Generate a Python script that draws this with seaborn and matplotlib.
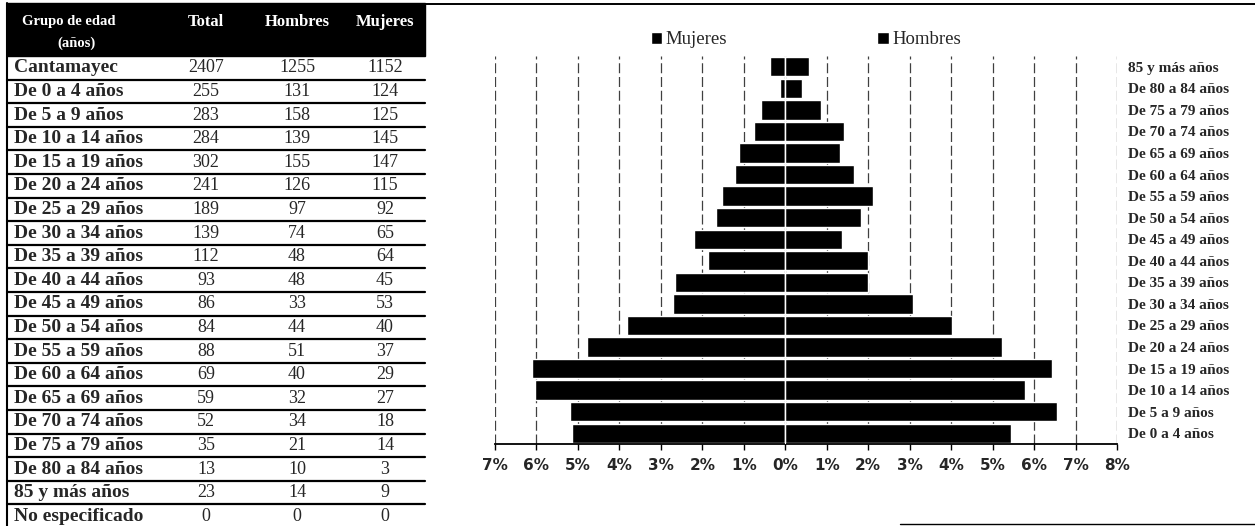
import numpy as np
import pandas as pd
import matplotlib
matplotlib.use("Agg")
import matplotlib.pyplot as plt
from matplotlib.patches import Rectangle, Patch
import seaborn as sns

sns.set_theme(style="ticks")
plt.rcParams["font.family"] = ["Liberation Serif", "DejaVu Serif"]

# --- data (table of the reference) ---
grupos = ["Cantamayec", "De 0 a 4 años", "De 5 a 9 años", "De 10 a 14 años",
          "De 15 a 19 años", "De 20 a 24 años", "De 25 a 29 años", "De 30 a 34 años",
          "De 35 a 39 años", "De 40 a 44 años", "De 45 a 49 años", "De 50 a 54 años",
          "De 55 a 59 años", "De 60 a 64 años", "De 65 a 69 años", "De 70 a 74 años",
          "De 75 a 79 años", "De 80 a 84 años", "85 y más años", "No especificado"]
total = [2407, 255, 283, 284, 302, 241, 189, 139, 112, 93, 86, 84, 88, 69, 59, 52, 35, 13, 23, 0]
hombres = [1255, 131, 158, 139, 155, 126, 97, 74, 48, 48, 33, 44, 51, 40, 32, 34, 21, 10, 14, 0]
mujeres = [1152, 124, 125, 145, 147, 115, 92, 65, 64, 45, 53, 40, 37, 29, 27, 18, 14, 3, 9, 0]
encabezado = ["Total", "Hombres", "Mujeres"]
xticks = list(range(-7, 9))

# pyramid uses the age groups only, as share of the total population
edades = grupos[1:19]
pob = total[0]
df = pd.DataFrame({
    "grupo": edades * 2,
    "sexo": ["Mujeres"] * len(edades) + ["Hombres"] * len(edades),
    "pct": [-m / pob * 100 for m in mujeres[1:19]] + [h / pob * 100 for h in hombres[1:19]],
})

fig = plt.figure(figsize=(12.55, 5.26), dpi=100)

# --- table drawn in pixel coordinates ---
bg = fig.add_axes([0, 0, 1, 1])
bg.set_xlim(0, 1255)
bg.set_ylim(526, 0)
bg.axis("off")

t_left, t_right = 7, 425
head_top, head_bot = 3, 56
row_h = 23.6
col_x = [206, 297, 385]
bg.add_patch(Rectangle((t_left, head_top), t_right - t_left, head_bot - head_top,
                       color="black", zorder=1))
hfont = dict(color="white", fontweight="bold", va="center")
bg.text(69, 22, "Grupo de edad", ha="center", fontsize=10.5, **hfont)
bg.text(76, 43, "(años)", ha="center", fontsize=10.5, **hfont)
for x, h in zip(col_x, encabezado):
    bg.text(x, 22, h, ha="center", fontsize=12, **hfont)

for i, g in enumerate(grupos):
    yc = head_bot + row_h * (i + 0.5)
    bg.text(14, yc, g, ha="left", va="center", fontsize=14, fontweight="bold")
    for x, v in zip(col_x, (total[i], hombres[i], mujeres[i])):
        bg.text(x, yc, str(v), ha="center", va="center", fontsize=13)
    bg.plot([t_left, t_right], [head_bot + row_h * (i + 1)] * 2, color="black", lw=1.6)
bg.plot([t_left, t_left], [head_top, 526], color="black", lw=1.5)

# frame lines of the chart box
bg.plot([t_right, 1255], [4, 4], color="black", lw=1.4)
bg.plot([900, 1255], [524, 524], color="black", lw=1.0)

# --- population pyramid ---
ax = fig.add_axes([495 / 1255, (526 - 444) / 526, (1117 - 495) / 1255, (444 - 56) / 526])
sns.barplot(data=df, x="pct", y="grupo", hue="sexo", order=edades[::-1],
            hue_order=["Mujeres", "Hombres"], palette=["black", "black"],
            dodge=False, width=0.9, orient="h", legend=False, saturation=1,
            errorbar=None, ax=ax, zorder=2)
ax.axvline(0, color="white", lw=0.8, zorder=3)
ax.set_xlim(-7, 8)
ax.set_xticks(xticks)
ax.set_xticklabels([f"{abs(v)}%" for v in xticks], family="DejaVu Sans",
                   fontweight="bold", fontsize=11)
ax.set_axisbelow(True)
ax.xaxis.grid(True, color="0.25", lw=0.9, ls=(0, (8, 3)))
ax.tick_params(axis="x", direction="out", length=4, width=1, color="black", pad=6)
ax.yaxis.tick_right()
ax.tick_params(axis="y", length=0, pad=8)
for lab in ax.get_yticklabels():
    lab.set_fontsize(11)
    lab.set_fontweight("bold")
ax.set_xlabel("")
ax.set_ylabel("")
sns.despine(ax=ax, left=True, right=True, top=True)
ax.spines["bottom"].set_color("black")
ax.spines["bottom"].set_linewidth(1.3)

handles = [Patch(facecolor="black", label="Mujeres"), Patch(facecolor="black", label="Hombres")]
ax.legend(handles=handles, ncol=2, loc="lower center", bbox_to_anchor=(0.5, 1.0),
          frameon=False, handlelength=0.6, handleheight=0.6, handletextpad=0.2,
          columnspacing=8.0, fontsize=13.5, borderaxespad=0.0)

fig.savefig("out.png", dpi=100)
